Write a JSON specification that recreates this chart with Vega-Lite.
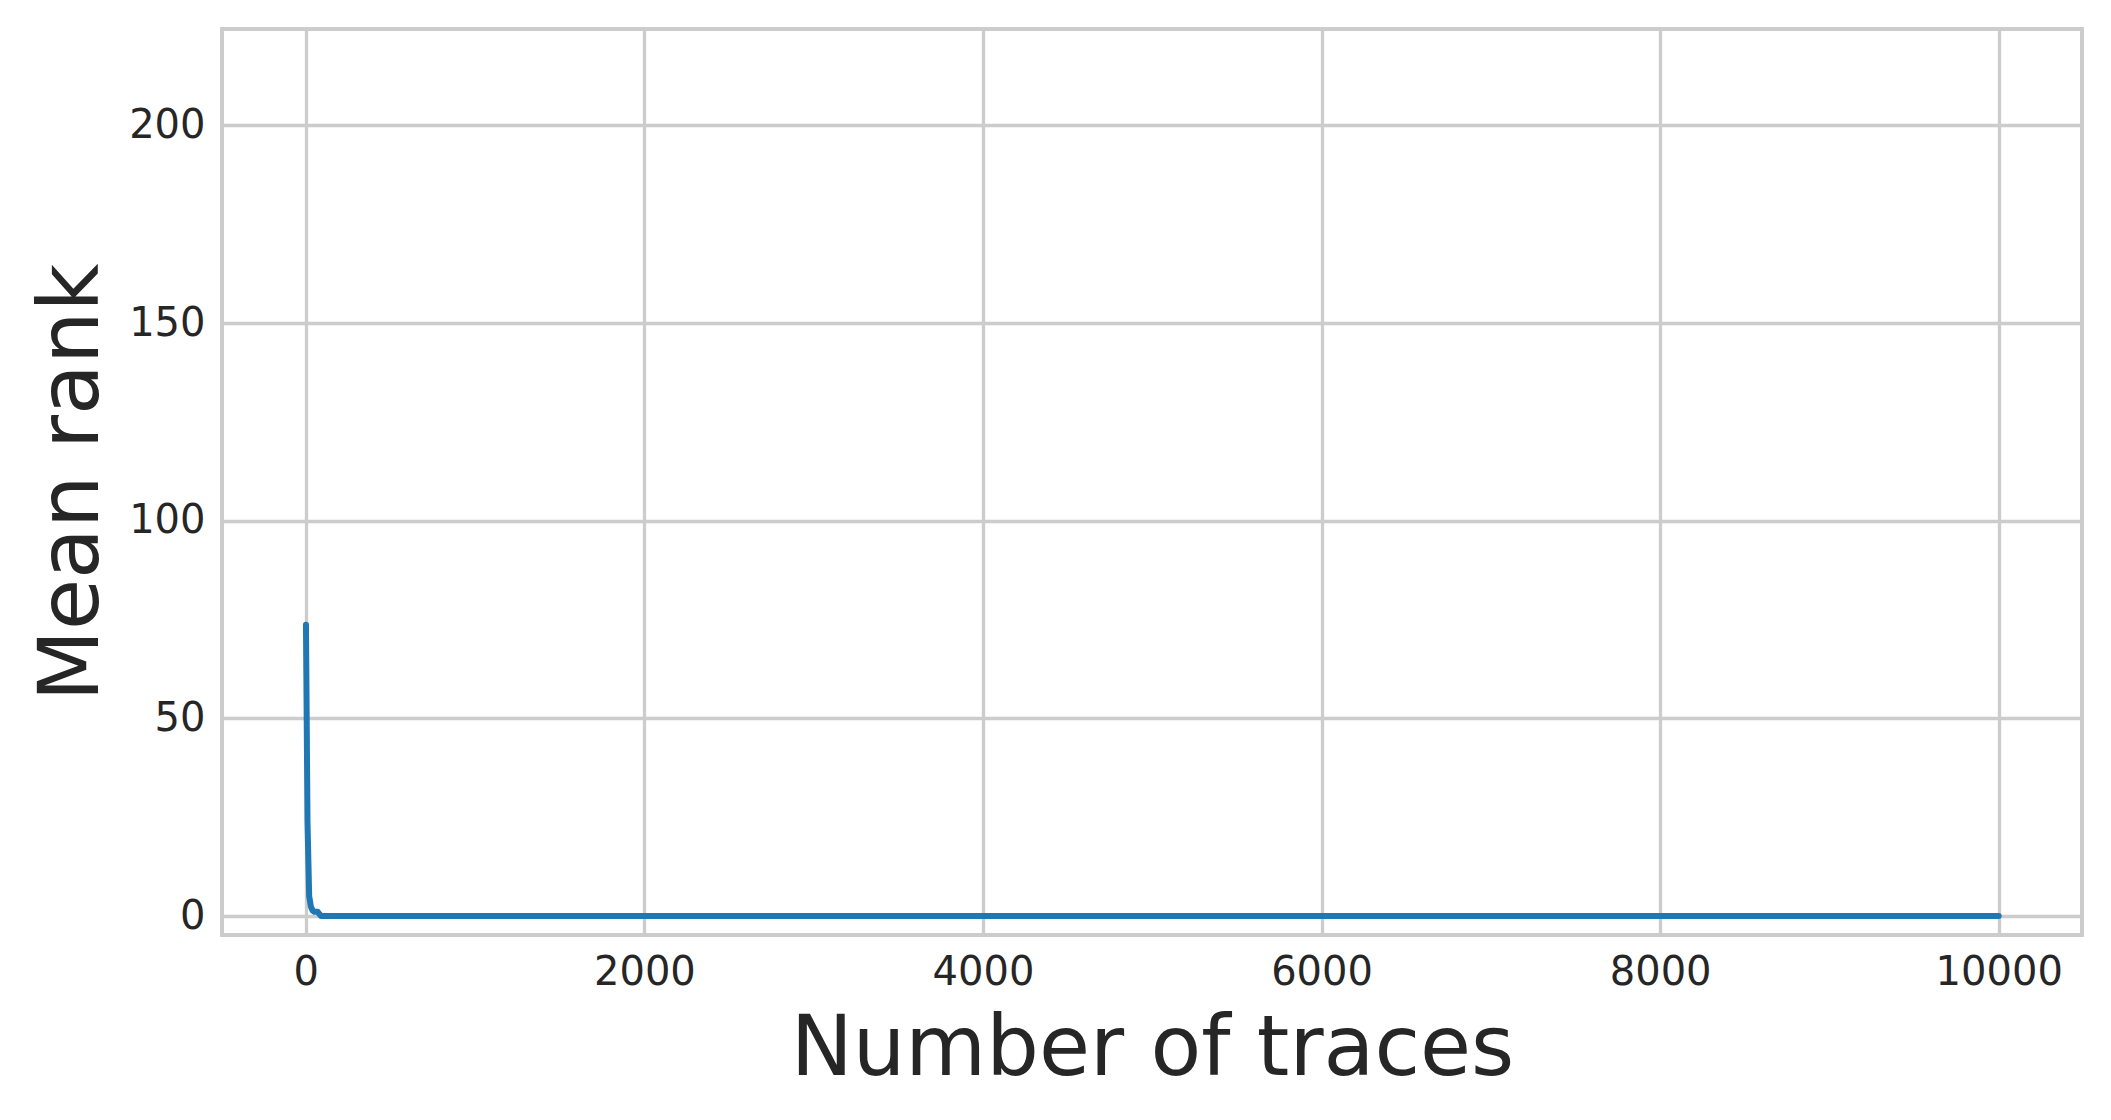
{
  "$schema": "https://vega.github.io/schema/vega-lite/v6.json",
  "autosize": "none",
  "width": 1860,
  "height": 906,
  "padding": {"left": 222, "top": 29, "right": 29, "bottom": 185},
  "background": "white",
  "config": {
    "font": "DejaVu Sans",
    "view": {"stroke": "#cccccc", "strokeWidth": 4},
    "axis": {
      "domain": false,
      "ticks": false,
      "grid": true,
      "gridColor": "#cccccc",
      "gridWidth": 3.3,
      "labelFont": "DejaVu Sans",
      "labelFontSize": 40,
      "labelColor": "#262626",
      "labelPadding": 17,
      "titleFont": "DejaVu Sans",
      "titleFontSize": 83,
      "titleFontWeight": "normal",
      "titleColor": "#262626"
    }
  },
  "data": {
    "values": [
      {"traces": 1, "rank": 73.7},
      {"traces": 10, "rank": 24},
      {"traces": 20, "rank": 5},
      {"traces": 30, "rank": 2.4},
      {"traces": 40, "rank": 1.4},
      {"traces": 50, "rank": 1.1},
      {"traces": 60, "rank": 1.1},
      {"traces": 70, "rank": 1.1},
      {"traces": 80, "rank": 0.5},
      {"traces": 90, "rank": 0},
      {"traces": 100, "rank": 0},
      {"traces": 1000, "rank": 0},
      {"traces": 5000, "rank": 0},
      {"traces": 10000, "rank": 0}
    ]
  },
  "mark": {"type": "line", "color": "#1f77b4", "strokeWidth": 6, "strokeCap": "round", "strokeJoin": "round", "clip": true},
  "encoding": {
    "x": {
      "field": "traces",
      "type": "quantitative",
      "scale": {"domain": [-495, 10492], "nice": false, "zero": false},
      "axis": {
        "values": [0, 2000, 4000, 6000, 8000, 10000],
        "format": "d",
        "title": "Number of traces",
        "titleBaseline": "alphabetic",
        "titleY": 139
      }
    },
    "y": {
      "field": "rank",
      "type": "quantitative",
      "scale": {"domain": [-4.8, 224.4], "nice": false, "zero": false},
      "axis": {
        "values": [0, 50, 100, 150, 200],
        "format": "d",
        "title": "Mean rank",
        "titleAngle": -90,
        "titleBaseline": "alphabetic",
        "titleX": -125,
        "titleY": 453
      }
    }
  }
}
